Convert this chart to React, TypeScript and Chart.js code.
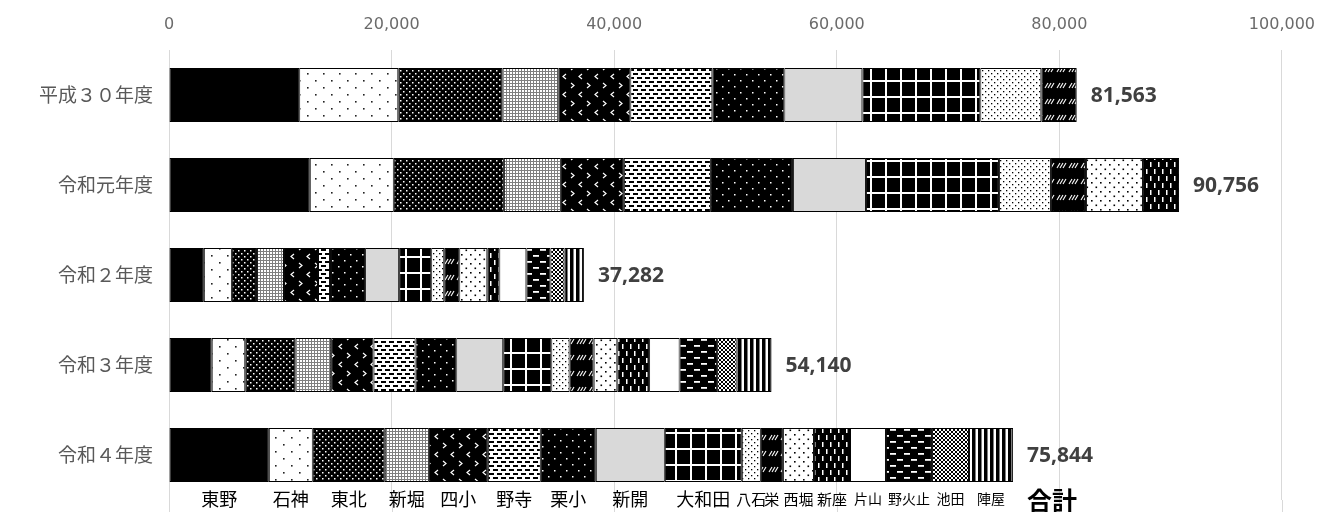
import React, { useEffect, useRef } from "react";
import { Chart, registerables } from "chart.js";

Chart.register(...registerables);

// ---------- data ----------
const categories = ["平成３０年度", "令和元年度", "令和２年度", "令和３年度", "令和４年度"];
const schools = [
  "東野", "石神", "東北", "新堀", "四小", "野寺", "栗小", "新開", "大和田",
  "八石", "栄", "西堀", "新座", "片山", "野火止", "池田", "陣屋",
];
// values per fiscal year, in the order of `schools`
const fyH30 = [11700, 8900, 9350, 5030, 6470, 7370, 6470, 7010, 10600, 5480, 3183, null, null, null, null, null, null];
const fyR1 = [12650, 7550, 9890, 5120, 5660, 7820, 7370, 6560, 11950, 4670, 3150, 5120, 3246, null, null, null, null];
const fyR2 = [3130, 2520, 2250, 2430, 3060, 1080, 3150, 3060, 2880, 1170, 1350, 2520, 1080, 2430, 2160, 1260, 1752];
const fyR3 = [3840, 3010, 4500, 3220, 3810, 3770, 3660, 4220, 4320, 1640, 2170, 2120, 2860, 2740, 3370, 1760, 3130];
const fyR4 = [8970, 3950, 6470, 3960, 5300, 4760, 4940, 6200, 6920, 1710, 1980, 2790, 3240, 3230, 4130, 3330, 3964];
const years = [fyH30, fyR1, fyR2, fyR3, fyR4];
const totals = [81563, 90756, 37282, 54140, 75844];
const totalLabel = "合計";
const xMin = 0;
const xMax = 100000;
const xStep = 20000;

// label font sizes for the name row under the last bar (style only)
const nameFontSizes = [18, 18, 18, 18, 18, 18, 18, 18, 18, 15, 15, 15, 15, 14, 14, 14, 14];

// ---------- patterns ----------
function tile(w: number, h: number, draw: (g: CanvasRenderingContext2D) => void) {
  const c = document.createElement("canvas");
  c.width = w;
  c.height = h;
  const g = c.getContext("2d")!;
  draw(g);
  return g.createPattern(c, "repeat")!;
}

function makeFills(): (string | CanvasPattern)[] {
  const W = "#ffffff";
  const B = "#000000";
  return [
    // 東野
    B,
    // 石神
    tile(16, 14, (g) => {
      g.fillStyle = W; g.fillRect(0, 0, 16, 14);
      g.fillStyle = "#222";
      g.fillRect(3, 3, 1.6, 1.6); g.fillRect(11, 10, 1.6, 1.6);
    }),
    // 東北
    tile(6, 6, (g) => {
      g.fillStyle = B; g.fillRect(0, 0, 6, 6);
      g.fillStyle = W;
      g.fillRect(1, 1, 1.5, 1.5); g.fillRect(4, 4, 1.5, 1.5);
    }),
    // 新堀
    tile(3, 3, (g) => {
      g.fillStyle = W; g.fillRect(0, 0, 3, 3);
      g.fillStyle = "rgba(0,0,0,0.5)";
      g.fillRect(0, 2, 3, 1); g.fillRect(2, 0, 1, 2);
    }),
    // 四小
    tile(16, 18, (g) => {
      g.fillStyle = B; g.fillRect(0, 0, 16, 18);
      g.strokeStyle = W; g.lineWidth = 1.2;
      g.beginPath(); g.moveTo(6, 2); g.lineTo(3, 4.5); g.lineTo(6, 7); g.stroke();
      g.beginPath(); g.moveTo(11, 11); g.lineTo(14, 13.5); g.lineTo(11, 16); g.stroke();
    }),
    // 野寺
    tile(8, 8, (g) => {
      g.fillStyle = W; g.fillRect(0, 0, 8, 8);
      g.fillStyle = B;
      g.fillRect(1, 1, 5, 2); g.fillRect(5, 5, 3, 2); g.fillRect(0, 5, 2, 2);
    }),
    // 栗小
    tile(12, 12, (g) => {
      g.fillStyle = B; g.fillRect(0, 0, 12, 12);
      g.fillStyle = W;
      g.fillRect(2, 2, 1.5, 1.5); g.fillRect(8, 8, 1.5, 1.5);
    }),
    // 新開
    "#d9d9d9",
    // 大和田
    tile(15, 16, (g) => {
      g.fillStyle = B; g.fillRect(0, 0, 15, 16);
      g.fillStyle = W;
      g.fillRect(0, 0, 15, 2); g.fillRect(0, 0, 2, 16);
    }),
    // 八石
    tile(6, 6, (g) => {
      g.fillStyle = W; g.fillRect(0, 0, 6, 6);
      g.fillStyle = B;
      g.fillRect(1, 1, 1.3, 1.3); g.fillRect(4, 4, 1.3, 1.3);
    }),
    // 栄
    tile(12, 16, (g) => {
      g.fillStyle = B; g.fillRect(0, 0, 12, 16);
      g.strokeStyle = W; g.lineWidth = 1.1;
      [1, 4, 7].forEach((x) => {
        g.beginPath(); g.moveTo(x, 8); g.lineTo(x + 3, 3); g.stroke();
      });
    }),
    // 西堀
    tile(9, 9, (g) => {
      g.fillStyle = W; g.fillRect(0, 0, 9, 9);
      g.fillStyle = B;
      g.fillRect(2, 2, 1.6, 1.6); g.fillRect(6.5, 6.5, 1.6, 1.6);
    }),
    // 新座
    tile(8, 14, (g) => {
      g.fillStyle = B; g.fillRect(0, 0, 8, 14);
      g.fillStyle = W;
      g.fillRect(2, 1, 1.5, 5); g.fillRect(6, 8, 1.5, 5);
    }),
    // 片山
    W,
    // 野火止
    tile(14, 12, (g) => {
      g.fillStyle = B; g.fillRect(0, 0, 14, 12);
      g.fillStyle = W;
      g.fillRect(1, 3, 6, 1.8); g.fillRect(8, 9, 6, 1.8);
    }),
    // 池田
    tile(4, 4, (g) => {
      g.fillStyle = W; g.fillRect(0, 0, 4, 4);
      g.strokeStyle = B; g.lineWidth = 1;
      g.beginPath(); g.moveTo(0, 0); g.lineTo(4, 4); g.stroke();
      g.beginPath(); g.moveTo(4, 0); g.lineTo(0, 4); g.stroke();
    }),
    // 陣屋
    tile(6, 2, (g) => {
      g.fillStyle = W; g.fillRect(0, 0, 6, 2);
      g.fillStyle = B; g.fillRect(0, 0, 3.5, 2);
    }),
  ];
}

const CJK = '"Noto Sans CJK JP", "Noto Sans", sans-serif';

const overlayPlugin = {
  id: "overlayLabels",
  beforeDatasetsDraw(chart: any) {
    // extend vertical gridlines down to the bottom edge of the canvas
    const ctx: CanvasRenderingContext2D = chart.ctx;
    const xs = chart.scales.x;
    ctx.save();
    ctx.strokeStyle = "#d9d9d9";
    ctx.lineWidth = 1;
    xs.ticks.forEach((t: any) => {
      const px = Math.round(xs.getPixelForValue(t.value)) + 0.5;
      ctx.beginPath();
      ctx.moveTo(px, chart.chartArea.bottom);
      ctx.lineTo(px, chart.height);
      ctx.stroke();
    });
    ctx.restore();
  },
  afterDatasetsDraw(chart: any) {
    const ctx: CanvasRenderingContext2D = chart.ctx;
    const xs = chart.scales.x;
    const ys = chart.scales.y;
    ctx.save();
    // totals at bar ends
    ctx.font = 'bold 21px "Open Sans", sans-serif';
    ctx.fillStyle = "#404040";
    ctx.textAlign = "left";
    ctx.textBaseline = "middle";
    totals.forEach((t, i) => {
      const end = xs.getPixelForValue(t);
      const y = ys.getPixelForValue(i);
      ctx.fillText(t.toLocaleString("en-US"), end + 14, y + 1);
    });
    // name labels under the last bar
    const li = categories.length - 1;
    ctx.fillStyle = "#000";
    ctx.textAlign = "center";
    let ly = 0;
    schools.forEach((s, d) => {
      const el: any = chart.getDatasetMeta(d).data[li];
      if (!el) return;
      const cx = (el.x + el.base) / 2;
      ly = el.y + el.height / 2 + 17;
      ctx.font = nameFontSizes[d] + "px " + CJK;
      ctx.fillText(s, cx, ly);
    });
    ctx.font = "bold 25px " + CJK;
    ctx.fillText(totalLabel, xs.getPixelForValue(totals[li]) + 39, ly + 1);
    ctx.restore();
  },
};

export default function App() {
  const ref = useRef<HTMLCanvasElement | null>(null);

  useEffect(() => {
    if (!ref.current) return;
    const fills = makeFills();
    const datasets = schools.map((name, d) => ({
      label: name,
      data: years.map((yr) => yr[d]),
      backgroundColor: fills[d],
      borderColor: "#000",
      borderWidth: 1,
      borderSkipped: false as any,
      barPercentage: 0.6,
      categoryPercentage: 1,
    }));
    const xTicks: number[] = [];
    for (let v = xMin; v <= xMax; v += xStep) xTicks.push(v);

    const chart = new Chart(ref.current, {
      type: "bar",
      data: { labels: categories, datasets },
      options: {
        indexAxis: "y",
        animation: false,
        responsive: false,
        devicePixelRatio: 1,
        layout: { padding: { left: 0, right: 49, top: 0, bottom: 12 } },
        plugins: {
          legend: { display: false },
          tooltip: { enabled: false },
        },
        scales: {
          x: {
            position: "top",
            stacked: true,
            min: xMin,
            max: xMax,
            afterBuildTicks: (s: any) => {
              s.ticks = xTicks.map((v) => ({ value: v }));
            },
            afterFit: (s: any) => {
              s.height = 50;
            },
            grid: { color: "#d9d9d9", lineWidth: 1, drawTicks: false },
            border: { display: false },
            ticks: {
              color: "#6b6b6b",
              padding: 16,
              font: { family: '"DejaVu Sans", sans-serif', size: 16 },
              callback: (v: any) => Number(v).toLocaleString("en-US"),
            },
          },
          y: {
            stacked: true,
            afterFit: (s: any) => {
              s.width = 169;
              s.paddingTop = 0;
              s.paddingBottom = 0;
            },
            grid: { display: false, drawTicks: true, tickLength: 16 },
            border: { display: false },
            ticks: {
              color: "#595959",
              padding: 0,
              font: { family: CJK, size: 19 },
            },
          },
        },
      },
      plugins: [overlayPlugin],
    });
    return () => chart.destroy();
  }, []);

  return (
    <div style={{ position: "absolute", left: 0, top: 0, width: 1331, height: 512, background: "#fff" }}>
      <canvas ref={ref} width={1331} height={512} style={{ display: "block" }} />
    </div>
  );
}
